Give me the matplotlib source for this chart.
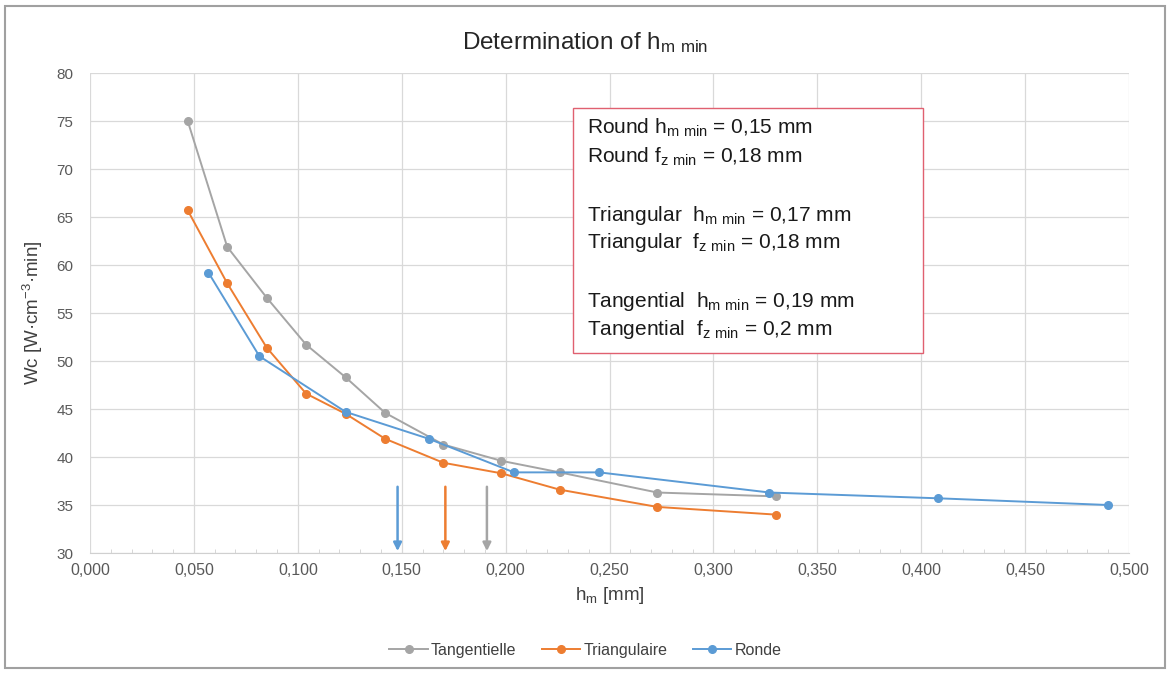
import matplotlib
matplotlib.use("Agg")
import matplotlib.pyplot as plt
from matplotlib.patches import Rectangle
from matplotlib.ticker import FuncFormatter, MultipleLocator

plt.rcParams['font.family'] = ['Liberation Sans', 'DejaVu Sans']
plt.rcParams['mathtext.default'] = 'regular'

# Tangentielle (gray)
tan_x = [0.047, 0.066, 0.085, 0.104, 0.123, 0.142, 0.170, 0.198, 0.226, 0.273, 0.330]
tan_y = [75.0, 61.9, 56.6, 51.7, 48.3, 44.6, 41.3, 39.6, 38.4, 36.3, 35.9]

# Triangulaire (orange)
tri_x = [0.047, 0.066, 0.085, 0.104, 0.123, 0.142, 0.170, 0.198, 0.226, 0.273, 0.330]
tri_y = [65.7, 58.1, 51.4, 46.6, 44.5, 41.9, 39.4, 38.3, 36.6, 34.8, 34.0]

# Ronde (blue)
ron_x = [0.057, 0.0815, 0.123, 0.163, 0.204, 0.245, 0.327, 0.408, 0.490]
ron_y = [59.2, 50.5, 44.7, 41.9, 38.4, 38.4, 36.3, 35.7, 35.0]

# h_m min markers
arrow_x = [0.148, 0.171, 0.191]
arrow_top = 36.9

series_names = ["Tangentielle", "Triangulaire", "Ronde"]
colors = ["#A5A5A5", "#ED7D31", "#5B9BD5"]

box_lines = [
    "Round h$_{m\\ min}$ = 0,15 mm",
    "Round f$_{z\\ min}$ = 0,18 mm",
    "",
    "Triangular  h$_{m\\ min}$ = 0,17 mm",
    "Triangular  f$_{z\\ min}$ = 0,18 mm",
    "",
    "Tangential  h$_{m\\ min}$ = 0,19 mm",
    "Tangential  f$_{z\\ min}$ = 0,2 mm",
]

fig = plt.figure(figsize=(11.71, 6.73), dpi=100)
ax = fig.add_axes([0.0769, 0.1783, 0.8872, 0.7132])

# outer chart border
fig.patches.append(Rectangle((0.004, 0.007), 0.991, 0.984, transform=fig.transFigure,
                             fill=False, edgecolor="#a0a0a0", linewidth=1.5))

for xs, ys, name, c in zip([tan_x, tri_x, ron_x], [tan_y, tri_y, ron_y], series_names, colors):
    ax.plot(xs, ys, color=c, linewidth=1.4, marker="o", markersize=5.5, label=name)

arrow_colors = ["#5B9BD5", "#ED7D31", "#A5A5A5"]
for xv, c in zip(arrow_x, arrow_colors):
    ax.annotate("", xy=(xv, 30.2), xytext=(xv, arrow_top),
                arrowprops=dict(arrowstyle="-|>", color=c, lw=1.8,
                                mutation_scale=12, shrinkA=0, shrinkB=0))

ax.set_xlim(0, 0.5)
ax.set_ylim(30, 80)
ax.xaxis.set_major_locator(MultipleLocator(0.05))
ax.xaxis.set_minor_locator(MultipleLocator(0.01))
ax.yaxis.set_major_locator(MultipleLocator(5))
ax.xaxis.set_major_formatter(FuncFormatter(lambda v, p: f"{v:.3f}".replace(".", ",")))
ax.yaxis.set_major_formatter(FuncFormatter(lambda v, p: f"{v:.0f}"))
ax.grid(True, which="major", color="#d9d9d9", linewidth=0.9)
ax.set_axisbelow(True)
for s in ["top", "right", "left"]:
    ax.spines[s].set_visible(False)
ax.spines["bottom"].set_color("#d0d0d0")
ax.tick_params(axis="x", which="major", length=0, labelsize=11.5, labelcolor="#595959", pad=7)
ax.tick_params(axis="y", which="major", length=0, labelsize=11, labelcolor="#595959", pad=12)
ax.tick_params(axis="x", which="minor", length=3, color="#d0d0d0", direction="in")
ax.tick_params(axis="y", which="both", length=0)

ax.set_xlabel("h$_m$ [mm]", fontsize=13.5, color="#404040", labelpad=5)
ax.set_ylabel("Wc [W·cm$^{-3}$·min]", fontsize=13.5, color="#404040", labelpad=8)

fig.text(0.5, 0.937, "Determination of h$_{m\\ min}$", ha="center", va="center",
         fontsize=17.5, color="#262626")

# text box
ax.add_patch(Rectangle((0.465, 0.417), 0.337, 0.51, transform=ax.transAxes,
                       facecolor="white", edgecolor="#e06070", linewidth=1.0, zorder=5))
line_y = [0.885, 0.825, 0.764, 0.704, 0.646, 0.585, 0.523, 0.465]
for txt, yy in zip(box_lines, line_y):
    if txt:
        ax.text(0.478, yy, txt, transform=ax.transAxes, fontsize=15,
                color="#1a1a1a", va="center", ha="left", zorder=6)

fig.legend(loc="center", bbox_to_anchor=(0.5, 0.034), ncol=3, frameon=False,
           fontsize=11.5, handlelength=2.4, columnspacing=1.6, handletextpad=0.2,
           labelcolor="#404040")

fig.savefig("out.png", dpi=100)
